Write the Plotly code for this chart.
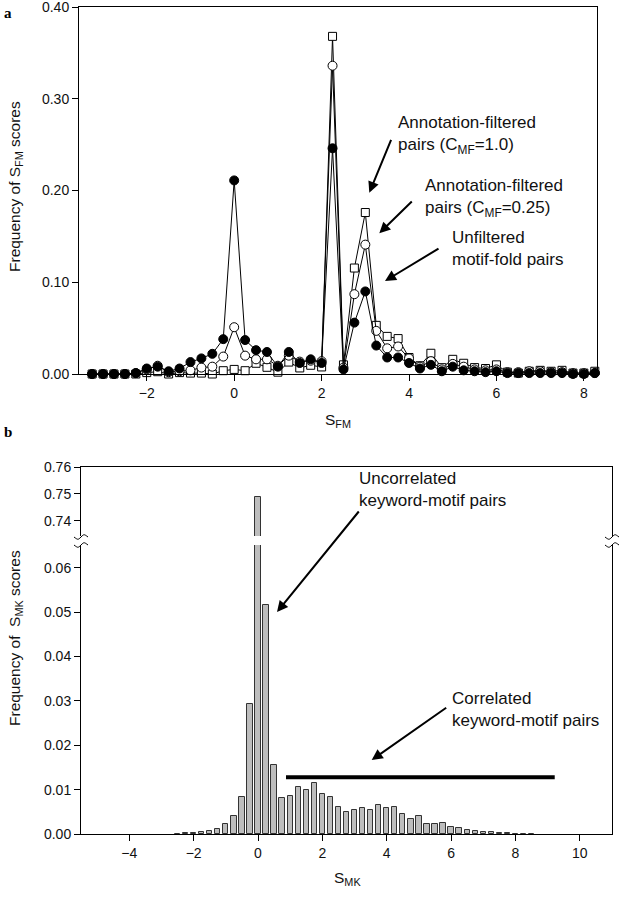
import plotly.graph_objects as go

# ---------------- Panel a data ----------------
sfm_x = [-3.25, -3.0, -2.75, -2.5, -2.25, -2.0, -1.75, -1.5, -1.25, -1.0, -0.75, -0.5,
         -0.25, 0.0, 0.25, 0.5, 0.75, 1.0, 1.25, 1.5, 1.75, 2.0, 2.25, 2.5,
         2.75, 3.0, 3.25, 3.5, 3.75, 4.0, 4.25, 4.5, 4.75, 5.0, 5.25, 5.5,
         5.75, 6.0, 6.25, 6.5, 6.75, 7.0, 7.25, 7.5, 7.75, 8.0, 8.25]

unfiltered = [0, 0, 0, 0, 0.001, 0.006, 0.008, 0.003, 0.006, 0.013, 0.017, 0.022,
              0.038, 0.211, 0.037, 0.026, 0.024, 0.008, 0.024, 0.012, 0.016, 0.012, 0.246, 0.005,
              0.056, 0.090, 0.031, 0.018, 0.018, 0.012, 0.006, 0.010, 0.003, 0.008, 0.004, 0.003,
              0.002, 0.003, 0.001, 0.001, 0.001, 0.001, 0.001, 0.001, 0.0, 0.0, 0.001]

filtered_025 = [0, 0, 0, 0, 0.001, 0.005, 0.009, 0.002, 0.003, 0.004, 0.007, 0.008,
                0.019, 0.051, 0.020, 0.016, 0.016, 0.009, 0.020, 0.0135, 0.0145, 0.014, 0.336, 0.007,
                0.087, 0.141, 0.047, 0.028, 0.030, 0.017, 0.008, 0.014, 0.005, 0.011, 0.008, 0.005,
                0.004, 0.005, 0.002, 0.002, 0.003, 0.003, 0.002, 0.002, 0.001, 0.001, 0.001]

filtered_10 = [0, 0, 0, 0, 0, 0.0015, 0.0025, 0.0, 0.0015, 0.001, 0.001, 0.0,
               0.0036, 0.005, 0.0036, 0.0117, 0.0073, 0.002, 0.013, 0.0066, 0.0095, 0.0077, 0.368, 0.010,
               0.1155, 0.176, 0.053, 0.041, 0.0386, 0.018, 0.009, 0.0226, 0.0069, 0.016, 0.0117, 0.007,
               0.006, 0.010, 0.002, 0.001, 0.003, 0.004, 0.003, 0.004, 0.001, 0.001, 0.003]

a_yticks = [0.0, 0.10, 0.20, 0.30, 0.40]
a_xticks = [-2, 0, 2, 4, 6, 8]

# ---------------- Panel b data ----------------
smk_x = [-2.5, -2.25, -2.0, -1.75, -1.5, -1.25, -1.0, -0.75, -0.5, -0.25, 0.0,
         0.25, 0.5, 0.75, 1.0, 1.25, 1.5, 1.75, 2.0, 2.25, 2.5, 2.75, 3.0,
         3.25, 3.5, 3.75, 4.0, 4.25, 4.5, 4.75, 5.0, 5.25, 5.5, 5.75, 6.0,
         6.25, 6.5, 6.75, 7.0, 7.25, 7.5, 7.75, 8.0, 8.25, 8.5]
smk_freq = [0.0001, 0.00015, 0.0003, 0.00045, 0.00075, 0.0012, 0.0022, 0.004, 0.0084, 0.0293, 0.749,
            0.0515, 0.0155, 0.0080, 0.0086, 0.0107, 0.0098, 0.0115, 0.0091, 0.0084, 0.0060, 0.0049, 0.0054,
            0.0059, 0.0055, 0.0065, 0.0058, 0.0060, 0.0045, 0.0033, 0.0040, 0.00225, 0.00225, 0.0024, 0.0015,
            0.0013, 0.0009, 0.0007, 0.00045, 0.0004, 0.0003, 0.00015, 0.0001, 0.0001, 0.0001]
b_low_yticks = [0.0, 0.01, 0.02, 0.03, 0.04, 0.05, 0.06]
b_high_yticks = [0.74, 0.75, 0.76]
b_xticks = [-4, -2, 0, 2, 4, 6, 8, 10]

correlated_span = [0.87, 9.22]
correlated_level = 0.01277

W, H = 625, 899
FONT = "Liberation Sans, Arial, sans-serif"


def px(x):
    return x / W


def py(y):
    return 1 - y / H


fig = go.Figure()

line_style = dict(color="black", width=1)
fig.add_trace(go.Scatter(x=sfm_x, y=filtered_10, mode="lines+markers", line=line_style,
                         marker=dict(symbol="square", size=8, color="white",
                                     line=dict(color="black", width=1)),
                         cliponaxis=False, xaxis="x", yaxis="y"))
fig.add_trace(go.Scatter(x=sfm_x, y=filtered_025, mode="lines+markers", line=line_style,
                         marker=dict(symbol="circle", size=9, color="white",
                                     line=dict(color="black", width=1)),
                         cliponaxis=False, xaxis="x", yaxis="y"))
fig.add_trace(go.Scatter(x=sfm_x, y=unfiltered, mode="lines+markers", line=line_style,
                         marker=dict(symbol="circle", size=9, color="black",
                                     line=dict(color="black", width=1)),
                         cliponaxis=False, xaxis="x", yaxis="y"))

bar_style = dict(color="#bdbdbd", line=dict(color="#333333", width=1))
fig.add_trace(go.Bar(x=smk_x, y=smk_freq, width=0.165, marker=bar_style, xaxis="x2", yaxis="y2"))
fig.add_trace(go.Bar(x=smk_x, y=smk_freq, width=0.165, marker=bar_style, xaxis="x3", yaxis="y3"))

tickfont = dict(family=FONT, size=14, color="#111")
axis_common = dict(showgrid=False, zeroline=False, showline=True, linecolor="black", linewidth=1,
                   ticks="outside", ticklen=6, tickcolor="black", tickfont=tickfont,
                   automargin=False, ticklabeloverflow="allow")

fig.update_layout(
    template="none",
    width=W, height=H, margin=dict(l=0, r=0, t=0, b=0, pad=0),
    paper_bgcolor="white", plot_bgcolor="white", showlegend=False, bargap=0,
    xaxis=dict(axis_common, domain=[px(79), px(597)], range=[-3.55, 8.3], anchor="y",
               tickvals=a_xticks, mirror=True),
    yaxis=dict(axis_common, domain=[py(374), py(7)], range=[0, 0.40], anchor="x",
               tickvals=a_yticks, ticktext=[f"{v:.2f}" for v in a_yticks], mirror=True),
    xaxis2=dict(axis_common, domain=[px(81), px(612)], range=[-5.5, 11], anchor="y2",
                tickvals=b_xticks),
    yaxis2=dict(axis_common, domain=[py(834), py(545)], range=[0, 0.0651], anchor="x2",
                tickvals=b_low_yticks, ticktext=[f"{v:.2f}" for v in b_low_yticks], mirror=True),
    xaxis3=dict(showgrid=False, zeroline=False, showline=True, linecolor="black", linewidth=1,
                domain=[px(81), px(612)], range=[-5.5, 11], anchor="y3", side="top",
                showticklabels=False, ticks="", automargin=False),
    yaxis3=dict(axis_common, domain=[py(536), py(467)], range=[0.7344, 0.76], anchor="x3",
                tickvals=b_high_yticks, ticktext=[f"{v:.2f}" for v in b_high_yticks], mirror=True),
)

# correlated range bar
fig.add_shape(type="line", xref="x2", yref="y2", x0=correlated_span[0], x1=correlated_span[1],
              y0=correlated_level, y1=correlated_level, line=dict(color="black", width=4))

# axis break marks (left and right of panel b)
for xb in (81, 612):
    fig.add_shape(type="rect", xref="paper", yref="paper", x0=px(xb - 1.5), x1=px(xb + 1.5),
                  y0=py(545), y1=py(537), fillcolor="white", line=dict(width=0), layer="above")
    for yb in (537, 545):
        x0, x1 = px(xb - 7), px(xb + 7)
        xm1, xm2 = px(xb - 3), px(xb + 3)
        ya, yb2 = py(yb + 3), py(yb - 3)
        path = (f"M {x0} {py(yb)} C {xm1} {ya}, {xm1} {ya}, {px(xb)} {py(yb)} "
                f"C {xm2} {yb2}, {xm2} {yb2}, {x1} {py(yb)}")
        fig.add_shape(type="path", xref="paper", yref="paper", path=path,
                      line=dict(color="black", width=1))

lab_font = dict(family=FONT, size=17, color="#111")
title_font = dict(family=FONT, size=15.5, color="#111")
anns = []
# axis titles
anns.append(dict(x=px(15), y=py(187), text="Frequency of S<sub>FM</sub> scores", textangle=-90,
                 font=title_font, xanchor="center", yanchor="middle"))
anns.append(dict(x=px(338), y=py(420), text="S<sub>FM</sub>", font=title_font,
                 xanchor="center", yanchor="middle"))
anns.append(dict(x=px(15), y=py(638), text="Frequency of  S<sub>MK</sub> scores", textangle=-90,
                 font=title_font, xanchor="center", yanchor="middle"))
anns.append(dict(x=px(347), y=py(878), text="S<sub>MK</sub>", font=title_font,
                 xanchor="center", yanchor="middle"))
# panel letters
anns.append(dict(x=px(2), y=py(13), text="<b>a</b>", xanchor="left", yanchor="middle",
                 font=dict(family="Liberation Serif, serif", size=15, color="black")))
anns.append(dict(x=px(2), y=py(432), text="<b>b</b>", xanchor="left", yanchor="middle",
                 font=dict(family="Liberation Serif, serif", size=15, color="black")))
# panel a labels
anns.append(dict(x=px(396), y=py(135), text="Annotation-filtered<br>pairs (C<sub>MF</sub>=1.0)",
                 xanchor="left", yanchor="middle", align="left", font=lab_font))
anns.append(dict(x=px(423), y=py(198), text="Annotation-filtered<br>pairs (C<sub>MF</sub>=0.25)",
                 xanchor="left", yanchor="middle", align="left", font=lab_font))
anns.append(dict(x=px(450), y=py(248), text="Unfiltered<br>motif-fold pairs",
                 xanchor="left", yanchor="middle", align="left", font=lab_font))
# panel b labels
anns.append(dict(x=px(357), y=py(489), text="Uncorrelated<br>keyword-motif pairs",
                 xanchor="left", yanchor="middle", align="left", font=lab_font))
anns.append(dict(x=px(450), y=py(709), text="Correlated<br>keyword-motif pairs",
                 xanchor="left", yanchor="middle", align="left", font=lab_font))
for a in anns:
    a.update(xref="paper", yref="paper", showarrow=False)

arrows = [((391.7, 138.3), (369.3, 192.7)),
          ((413.3, 200.0), (379.3, 233.3)),
          ((440.0, 247.7), (385.0, 281.0)),
          ((360.0, 510.0), (277.0, 612.0)),
          ((447.7, 706.7), (371.7, 760.0))]
for (tx, ty), (hx, hy) in arrows:
    anns.append(dict(xref="paper", yref="paper", x=px(hx), y=py(hy), ax=tx - hx, ay=ty - hy,
                     text="", showarrow=True, arrowhead=2, arrowsize=1.1, arrowwidth=2,
                     arrowcolor="black"))

fig.update_layout(annotations=anns)
fig.write_html("out.html", config={"displayModeBar": False},
               post_script="document.body.style.margin='0px';")
